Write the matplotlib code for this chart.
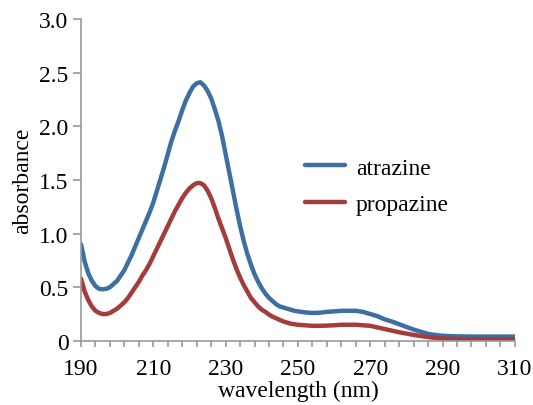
import matplotlib
matplotlib.use("Agg")
import matplotlib.pyplot as plt
from matplotlib.ticker import FixedLocator, FuncFormatter

# wavelength grid (nm): 1 nm steps over the main band, coarser in the tail
wavelength = list(range(190, 251)) + list(range(252, 291, 2)) + [294, 298, 302, 306, 310]

atrazine = [
    # 190-223
    0.90, 0.74, 0.63, 0.56, 0.51, 0.485, 0.48, 0.485, 0.50, 0.53,
    0.56, 0.61, 0.66, 0.73, 0.80, 0.88, 0.96, 1.04, 1.12, 1.20,
    1.29, 1.40, 1.51, 1.62, 1.74, 1.86, 1.96, 2.05, 2.15, 2.24,
    2.31, 2.37, 2.40, 2.41,
    # 224-250
    2.38, 2.33, 2.26, 2.16, 2.05, 1.91, 1.74, 1.57, 1.40, 1.23,
    1.07, 0.93, 0.81, 0.71, 0.62, 0.55, 0.49, 0.44, 0.40, 0.37,
    0.34, 0.32, 0.31, 0.30, 0.29, 0.28, 0.275,
    # 252-290 (2 nm)
    0.265, 0.26, 0.262, 0.27, 0.275, 0.28, 0.28, 0.28, 0.27, 0.25,
    0.23, 0.20, 0.18, 0.155, 0.13, 0.105, 0.085, 0.065, 0.055, 0.047,
    # 294-310
    0.042, 0.04, 0.04, 0.04, 0.04,
]

propazine = [
    # 190-223
    0.58, 0.46, 0.38, 0.32, 0.28, 0.26, 0.25, 0.25, 0.26, 0.28,
    0.30, 0.33, 0.36, 0.40, 0.45, 0.50, 0.55, 0.61, 0.66, 0.72,
    0.79, 0.86, 0.93, 1.00, 1.07, 1.14, 1.21, 1.27, 1.33, 1.38,
    1.42, 1.45, 1.47, 1.47,
    # 224-250
    1.45, 1.40, 1.33, 1.24, 1.14, 1.05, 0.96, 0.86, 0.76, 0.67,
    0.59, 0.52, 0.46, 0.40, 0.36, 0.32, 0.29, 0.27, 0.245, 0.225,
    0.21, 0.195, 0.18, 0.17, 0.16, 0.155, 0.15,
    # 252-290 (2 nm)
    0.145, 0.14, 0.14, 0.142, 0.145, 0.15, 0.15, 0.15, 0.145, 0.14,
    0.125, 0.11, 0.095, 0.08, 0.068, 0.055, 0.045, 0.035, 0.028, 0.022,
    # 294-310
    0.018, 0.016, 0.015, 0.015, 0.015,
]

x_major = list(range(190, 311, 20))
x_minor = list(range(190, 311, 4))
y_major = [0, 0.5, 1.0, 1.5, 2.0, 2.5, 3.0]

plt.rcParams['font.family'] = ['Liberation Serif', 'DejaVu Serif']
FS = 17

fig = plt.figure(figsize=(5.33, 4.06), dpi=100)
ax = fig.add_axes([0.152, 0.158, 0.814, 0.793])

ax.plot(wavelength, atrazine, color='#3d6fa3', lw=3.2, label='atrazine', solid_capstyle='round')
ax.plot(wavelength, propazine, color='#a53c3c', lw=3.2, label='propazine', solid_capstyle='round')

ax.set_xlim(190, 310)
ax.set_ylim(0, 3.0)
ax.xaxis.set_major_locator(FixedLocator(x_major))
ax.xaxis.set_minor_locator(FixedLocator(x_minor))
ax.yaxis.set_major_locator(FixedLocator(y_major))
ax.yaxis.set_major_formatter(FuncFormatter(lambda v, p: '0' if v == 0 else f'{v:.1f}'))

for s in ['top', 'right']:
    ax.spines[s].set_visible(False)
for s in ['left', 'bottom']:
    ax.spines[s].set_color('#999999')
    ax.spines[s].set_linewidth(1.2)

ax.tick_params(axis='both', which='both', color='#999999', width=1.2, labelsize=FS)
ax.tick_params(axis='x', which='both', length=4, direction='out', pad=8)
ax.tick_params(axis='y', which='major', length=6, direction='out', pad=3)

ax.set_xlabel('wavelength (nm)', fontsize=FS, labelpad=1)
ax.set_ylabel('absorbance', fontsize=FS, labelpad=4)

ax.legend(loc='upper left', bbox_to_anchor=(0.495, 0.60), frameon=False,
          fontsize=FS, handlelength=1.7, labelspacing=0.62, handletextpad=0.45,
          borderaxespad=0)

fig.savefig('out.png', dpi=100)
